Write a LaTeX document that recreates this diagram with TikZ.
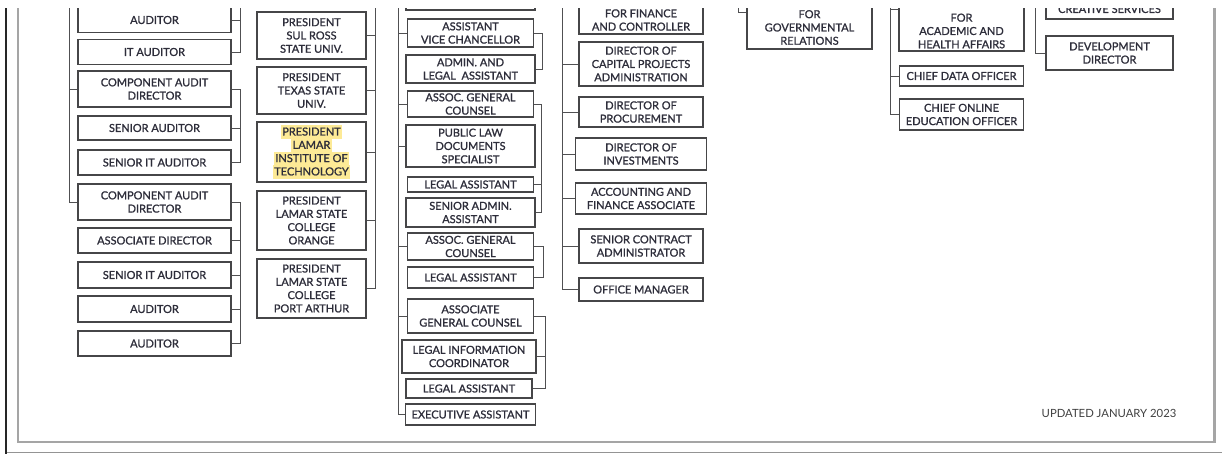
\documentclass[tikz,border=0pt]{standalone}
\usepackage{fontspec}
\setmainfont{Lato}[FakeBold=1.2]
\newfontfamily\plainlato{Lato}
\usetikzlibrary{positioning}

\definecolor{boxline}{RGB}{70,70,72}
\definecolor{linkline}{RGB}{80,80,82}
\definecolor{boxtext}{RGB}{45,45,58}
\definecolor{hlyellow}{RGB}{253,234,150}
\definecolor{framegray}{RGB}{165,165,165}
\newcommand{\hlline}[1]{\colorbox{hlyellow}{\hspace{1.5pt}\rule[-3.2pt]{0pt}{13.3pt}#1\hspace{1.5pt}}}

\begin{document}
\setlength{\fboxsep}{0pt}
\begin{tikzpicture}[x=1pt,y=-1pt,on grid,
  box/.style={draw=boxline,line width=1.1pt,text=boxtext,align=center,inner sep=1.5pt,
    font=\fontsize{11}{13.3}\selectfont,minimum height=25pt},
  audit/.style={box,minimum width=153pt},
  pres/.style={box,minimum width=109pt},
  legal/.style={box,minimum width=126pt},
  fin/.style={box,minimum width=124pt},
  link/.style={draw=linkline,line width=0.9pt}]
  \useasboundingbox (0,0) rectangle (1222,454);
  \begin{scope}
  \clip (0,9) rectangle (1222,454);
  % frame
  \draw[black!85,line width=2pt] (5.5,0) -- (5.5,454);
  \draw[framegray,line width=2.2pt] (18,0) -- (18,442) -- (1214.5,442) -- (1214.5,0);
  \draw[framegray!90!black,line width=1.4pt] (7,452.5) -- (1222,452.5);

  % audit column
  \node[audit]                    (a1)  at (154.5,20) {AUDITOR};
  \node[audit]                    (a2)  [below=32pt of a1]   {IT AUDITOR};
  \node[audit,minimum height=36pt] (a3) [below=37pt of a2]   {COMPONENT AUDIT\\DIRECTOR};
  \node[audit,minimum height=24pt] (a4) [below=39pt of a3]   {SENIOR AUDITOR};
  \node[audit]                    (a5)  [below=34.5pt of a4] {SENIOR IT AUDITOR};
  \node[audit,minimum height=36pt] (a6) [below=39.5pt of a5] {COMPONENT AUDIT\\DIRECTOR};
  \node[audit]                    (a7)  [below=38.5pt of a6] {ASSOCIATE DIRECTOR};
  \node[audit,minimum height=26pt] (a8) [below=34.5pt of a7] {SENIOR IT AUDITOR};
  \node[audit,minimum height=26pt] (a9) [below=34pt of a8]   {AUDITOR};
  \node[audit]                    (a10) [below=34.5pt of a9] {AUDITOR};
  \coordinate (aspine) at (69,0);
  \coordinate (atop) at (240,0);
  \draw[link] (aspine) |- (a6.west);
  \draw[link] (a3.west) -- (a3.west -| aspine);
  \draw[link] (atop) |- (a2.east);
  \draw[link] (a1.east) -- (a1.east -| atop);
  \draw[link] (a3.east) -- ++(9,0) |- (a5.east);
  \draw[link] (a4.east) -- ++(9,0);
  \draw[link] (a6.east) -- ++(9,0) |- (a10.east);
  \foreach \n in {a7,a8,a9}
    \draw[link] (\n.east) -- ++(9,0);

  % presidents
  \node[pres,minimum height=47pt] (p1) at (311.5,35.5)     {PRESIDENT\\SUL ROSS\\STATE UNIV.};
  \node[pres,minimum height=47pt] (p2) [below=55pt of p1]   {PRESIDENT\\TEXAS STATE\\UNIV.};
  \node[pres,minimum height=60pt] (p3) [below=61.5pt of p2]
    {\hlline{PRESIDENT}\\\hlline{LAMAR}\\\hlline{INSTITUTE OF}\\\hlline{TECHNOLOGY}};
  \node[pres,minimum height=59pt] (p4) [below=68.5pt of p3] {PRESIDENT\\LAMAR STATE\\COLLEGE\\ORANGE};
  \node[pres,minimum height=59pt] (p5) [below=68pt of p4]   {PRESIDENT\\LAMAR STATE\\COLLEGE\\PORT ARTHUR};
  \coordinate (ptop) at (375,0);
  \draw[link] (ptop) |- (p5.east);
  \foreach \n in {p1,p2,p3,p4}
    \draw[link] (\n.east) -- (\n.east -| ptop);

  % legal
  \node[legal,minimum width=129pt,minimum height=30pt] (l0) at (470.5,-5) {};
  \node[legal,minimum height=28pt] (l1) [below=38pt of l0]   {ASSISTANT\\VICE CHANCELLOR};
  \node[legal,minimum width=129pt,minimum height=28pt] (l2) [below=36pt of l1] {ADMIN. AND\\LEGAL\ \ ASSISTANT};
  \node[legal,minimum height=26pt] (l3) [below=35pt of l2]   {ASSOC. GENERAL\\COUNSEL};
  \node[legal,minimum width=129pt,minimum height=42pt] (l4) [below=42pt of l3] {PUBLIC LAW\\DOCUMENTS\\SPECIALIST};
  \node[legal,minimum height=15pt] (l5) [below=38.5pt of l4] {LEGAL ASSISTANT};
  \node[legal,minimum width=129pt,minimum height=29pt] (l6) [below=28pt of l5] {SENIOR ADMIN.\\ASSISTANT};
  \node[legal,minimum height=27pt] (l7) [below=34pt of l6]   {ASSOC. GENERAL\\COUNSEL};
  \node[legal,minimum height=21pt] (l8) [below=31pt of l7]   {LEGAL ASSISTANT};
  \node[legal,minimum height=34pt] (l9) [below=38.5pt of l8] {ASSOCIATE\\GENERAL COUNSEL};
  \node[legal,minimum width=134pt,minimum height=33pt,xshift=-1.5pt] (l10) [below=40.5pt of l9] {LEGAL INFORMATION\\COORDINATOR};
  \node[legal,minimum height=19pt] (l11) [below=32pt of l10]  {LEGAL ASSISTANT};
  \node[legal,minimum width=130pt,minimum height=21pt,xshift=1.5pt] (l12) [below=26pt of l11] {EXECUTIVE ASSISTANT};
  \coordinate (ltop) at (398,0);
  \draw[link] (ltop) |- (l12.west);
  \foreach \n in {l1,l3,l4,l7,l9}
    \draw[link] (\n.west) -- (\n.west -| ltop);
  \draw[link] (l1.east) -- ++(8.5,0) |- (l2.east);
  \draw[link] (l3.east) -- ++(7.5,0) |- (l6.east);
  \draw[link] (l5.east) -- ++(7.5,0);
  \draw[link] (l7.east) -- ++(9.5,0) |- (l8.east);
  \draw[link] (l9.east) -- ++(11.5,0) |- (l11.east);
  \draw[link] (l10.east) -- ++(8,0);

  % finance
  \node[fin,minimum height=28pt] (f0) at (641,20)          {FOR FINANCE\\AND CONTROLLER};
  \node[fin,minimum height=44pt] (f1) [below=44pt of f0]   {DIRECTOR OF\\CAPITAL PROJECTS\\ADMINISTRATION};
  \node[fin,minimum height=30pt] (f2) [below=48pt of f1]   {DIRECTOR OF\\PROCUREMENT};
  \node[fin,minimum width=131pt,minimum height=32pt] (f3) [below=42pt of f2]   {DIRECTOR OF\\INVESTMENTS};
  \node[fin,minimum width=131pt,minimum height=31pt] (f4) [below=44.5pt of f3] {ACCOUNTING AND\\FINANCE ASSOCIATE};
  \node[fin,minimum height=34pt] (f5) [below=47.5pt of f4] {SENIOR CONTRACT\\ADMINISTRATOR};
  \node[fin,minimum height=23pt] (f6) [below=43.5pt of f5] {OFFICE MANAGER};
  \coordinate (ftop) at (562,0);
  \draw[link] (ftop) |- (f6.west);
  \foreach \n in {f1,f2,f3,f4,f5}
    \draw[link] (\n.west) -- (\n.west -| ftop);

  % governmental relations
  \node[box,minimum width=125pt,minimum height=43pt] (g1) at (809.5,27.5) {FOR\\GOVERNMENTAL\\RELATIONS};
  \coordinate (gtop) at (738,0);
  \draw[link] (gtop) |- (g1.167);

  % academic and health affairs
  \node[fin,minimum width=125pt,minimum height=53pt] (h1) at (961.5,24.5)
    {\rule{0pt}{21pt}FOR\\ACADEMIC AND\\HEALTH AFFAIRS};
  \node[fin,minimum height=20pt] (h2) [below=51.5pt of h1] {CHIEF DATA OFFICER};
  \node[fin,minimum height=31pt] (h3) [below=38.5pt of h2] {CHIEF ONLINE\\EDUCATION OFFICER};
  \coordinate (htop) at (890,0);
  \draw[link] (htop) |- (h3.west);
  \draw[link] (h1.167) -- (h1.167 -| htop);
  \draw[link] (h2.west) -- (h2.west -| htop);

  % creative services
  \node[box,minimum width=127pt,minimum height=20pt] (k1) at (1109.5,9) {CREATIVE SERVICES};
  \node[box,minimum width=127pt,minimum height=34pt] (k2) [below=44pt of k1] {DEVELOPMENT\\DIRECTOR};
  \coordinate (ktop) at (1035,0);
  \draw[link] (ktop) |- (k2.west);

  \node[text=black!75,font=\plainlato\fontsize{11.3}{13}\selectfont] (updated) at (1109,413) {UPDATED JANUARY 2023};
  \end{scope}
\end{tikzpicture}
\end{document}
